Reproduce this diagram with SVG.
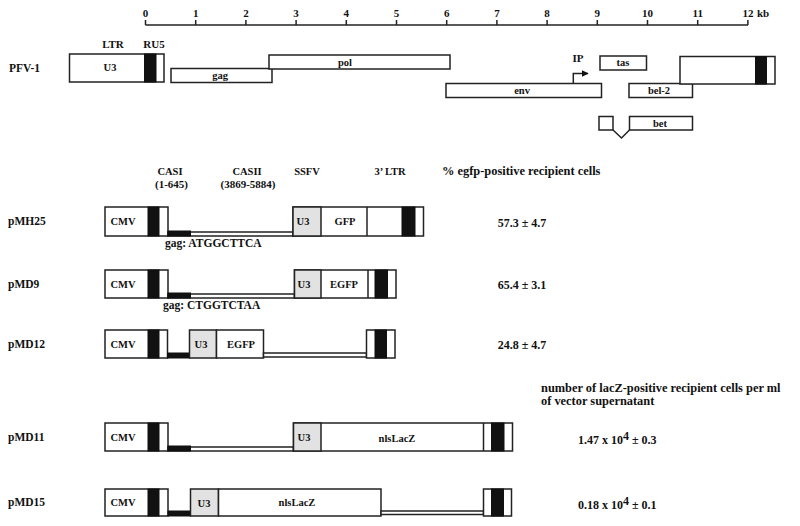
<svg xmlns="http://www.w3.org/2000/svg" width="800" height="526" viewBox="0 0 800 526">
<defs>
<style>
text{font-family:"Liberation Serif","Times New Roman",serif;font-weight:bold;font-size:10.5px;fill:#111}
.c{text-anchor:middle}
.lbl{font-size:11.5px}
.h{font-size:11px}
.big{font-size:12.4px}
.val{font-size:12px}
.seq{font-size:11.5px}
.bx{fill:#fff;stroke:#222;stroke-width:1.5}
.blk{fill:#111;stroke:#111;stroke-width:1}
.u3{fill:#e2e2e2;stroke:#222;stroke-width:1.5}
.ln{fill:none;stroke:#222;stroke-width:1.5}
</style>
<marker id="ah" viewBox="0 0 10 10" refX="9" refY="5" markerWidth="7" markerHeight="7" markerUnits="userSpaceOnUse" orient="auto">
<path d="M0,0 L10,5 L0,10 z" fill="#111"/>
</marker>
</defs>
<rect width="800" height="526" fill="#fff"/>

<g id="ruler">
<line x1="145.5" y1="25" x2="748" y2="25" class="ln"/>
<path class="ln" d="M145.5,25V20 M195.7,25V20 M245.9,25V20 M296.1,25V20 M346.3,25V20 M396.5,25V20 M446.7,25V20 M496.9,25V20 M547.1,25V20 M597.3,25V20 M647.5,25V20 M697.7,25V20 M747.9,25V20"/>
<text class="c h" x="145.5" y="17">0</text>
<text class="c h" x="195.7" y="17">1</text>
<text class="c h" x="245.9" y="17">2</text>
<text class="c h" x="296.1" y="17">3</text>
<text class="c h" x="346.3" y="17">4</text>
<text class="c h" x="396.5" y="17">5</text>
<text class="c h" x="446.7" y="17">6</text>
<text class="c h" x="496.9" y="17">7</text>
<text class="c h" x="547.1" y="17">8</text>
<text class="c h" x="597.3" y="17">9</text>
<text class="c h" x="647.5" y="17">10</text>
<text class="c h" x="697.7" y="17">11</text>
<text class="c h" x="747.9" y="17">12</text>
<text class="h" x="757" y="17">kb</text>
</g>

<g id="pfv1">
<text class="lbl" x="9" y="72">PFV-1</text>
<text class="c h" x="113" y="48">LTR</text>
<text class="c h" x="154" y="48">RU5</text>
<g id="ltr5"><rect class="bx" x="69.5" y="54" width="94.5" height="28"/><rect class="blk" x="144.5" y="54" width="11.5" height="28"/><text class="c" x="110" y="71">U3</text></g>
<g id="gag"><rect class="bx" x="171" y="68.5" width="101" height="14"/><text class="c" x="220" y="79">gag</text></g>
<g id="pol"><rect class="bx" x="269" y="55" width="181" height="14"/><text class="c" x="345" y="65.5">pol</text></g>
<g id="env"><rect class="bx" x="446" y="83.5" width="155.5" height="14"/><text class="c" x="522" y="94">env</text></g>
<text class="c h" x="578" y="62">IP</text>
<g id="tas"><rect class="bx" x="600" y="56" width="46.5" height="14"/><text class="c" x="623" y="66">tas</text></g>
<g id="bel2"><rect class="bx" x="629" y="83.5" width="63.5" height="14"/><text class="c" x="659" y="94">bel-2</text></g>
<g id="ltr3"><rect class="bx" x="680" y="56.5" width="95" height="27.5"/><rect class="blk" x="755.5" y="56.5" width="11" height="27.5"/></g>
<g id="bet"><rect class="bx" x="599" y="116.5" width="14" height="13.5"/><rect class="bx" x="629.5" y="116.5" width="63" height="13.5"/><text class="c" x="660" y="127">bet</text></g>
</g>

<g id="connectors">
<path class="ln" d="M573.3,83.5V73.5H588" marker-end="url(#ah)"/>
<path class="ln" d="M613,130L621.5,138L629.5,130"/>
</g>

<g id="headers">
<text class="c" x="170" y="175">CASI</text>
<text class="c h" x="171.5" y="188">(1-645)</text>
<text class="c" x="247" y="175">CASII</text>
<text class="c h" x="248" y="188">(3869-5884)</text>
<text class="c" x="307" y="175">SSFV</text>
<text class="c" x="390" y="175">3’ LTR</text>
<text class="big" x="442" y="175">% egfp-positive recipient cells</text>
<text class="big" x="541" y="392">number of lacZ-positive recipient cells per ml</text>
<text class="big" x="541" y="405">of vector supernatant</text>
</g>

<g id="pMH25">
<text class="lbl" x="8" y="225">pMH25</text>
<rect class="bx" x="105" y="207" width="63" height="29"/><rect class="blk" x="148" y="207" width="11" height="29"/>
<text class="c" x="123" y="225">CMV</text>
<rect class="bx" x="168" y="232" width="125" height="4"/><rect class="blk" x="168" y="231" width="22.5" height="5"/>
<rect class="bx" x="293" y="207" width="130.5" height="29"/>
<rect class="u3" x="293" y="207" width="28" height="29"/>
<line class="ln" x1="367" y1="207" x2="367" y2="236"/>
<rect class="blk" x="402" y="207" width="13" height="29"/>
<text class="c" x="303" y="225">U3</text>
<text class="c" x="345" y="225">GFP</text>
<text class="seq" x="165" y="247">gag: ATGGCTTCA</text>
<text class="c val" x="522" y="227">57.3 ± 4.7</text>
</g>

<g id="pMD9">
<text class="lbl" x="8" y="288">pMD9</text>
<rect class="bx" x="105" y="270" width="63" height="28"/><rect class="blk" x="148" y="270" width="11" height="28"/>
<text class="c" x="123" y="288">CMV</text>
<rect class="bx" x="168" y="294" width="126.5" height="4"/><rect class="blk" x="168" y="293" width="22.5" height="5"/>
<rect class="bx" x="294.5" y="270" width="101.5" height="28"/>
<rect class="u3" x="294.5" y="270" width="26.5" height="28"/>
<line class="ln" x1="368" y1="270" x2="368" y2="298"/>
<rect class="blk" x="375" y="270" width="12.5" height="28"/>
<text class="c" x="304" y="288">U3</text>
<text class="c" x="344" y="288">EGFP</text>
<text class="seq" x="163" y="309">gag: CTGGTCTAA</text>
<text class="c val" x="522" y="289">65.4 ± 3.1</text>
</g>

<g id="pMD12">
<text class="lbl" x="8" y="348">pMD12</text>
<rect class="bx" x="105" y="330" width="62.5" height="28"/><rect class="blk" x="148" y="330" width="11" height="28"/>
<text class="c" x="123" y="348">CMV</text>
<rect class="blk" x="167.5" y="353" width="22" height="5"/>
<rect class="u3" x="189.5" y="330" width="27" height="28"/>
<rect class="bx" x="216.5" y="330" width="47" height="28"/>
<text class="c" x="201" y="348">U3</text>
<text class="c" x="241" y="348">EGFP</text>
<rect class="bx" x="263.5" y="353" width="103" height="4"/>
<rect class="bx" x="366.5" y="330" width="28.5" height="28"/><rect class="blk" x="375" y="330" width="11.5" height="28"/>
<text class="c val" x="522" y="349">24.8 ± 4.7</text>
</g>

<g id="pMD11">
<text class="lbl" x="8" y="441">pMD11</text>
<rect class="bx" x="105" y="423" width="63" height="28"/><rect class="blk" x="148" y="423" width="11" height="28"/>
<text class="c" x="123" y="441">CMV</text>
<rect class="bx" x="168" y="447" width="125.5" height="4"/><rect class="blk" x="168" y="446" width="22.5" height="5"/>
<rect class="bx" x="293.5" y="423" width="219" height="28"/>
<rect class="u3" x="293.5" y="423" width="27.5" height="28"/>
<line class="ln" x1="483.5" y1="423" x2="483.5" y2="451"/>
<rect class="blk" x="491.5" y="423" width="12.5" height="28"/>
<text class="c" x="304" y="441">U3</text>
<text class="c" x="397" y="442">nlsLacZ</text>
<text class="val" x="578" y="444">1.47 x 10<tspan dy="-4">4</tspan><tspan dy="4"> ± 0.3</tspan></text>
</g>

<g id="pMD15">
<text class="lbl" x="8" y="506">pMD15</text>
<rect class="bx" x="105" y="489" width="63" height="27"/><rect class="blk" x="148" y="489" width="11" height="27"/>
<text class="c" x="123" y="506">CMV</text>
<rect class="blk" x="168" y="511" width="22.5" height="5"/>
<rect class="u3" x="190.5" y="489" width="28" height="27"/>
<rect class="bx" x="218.5" y="489" width="162.5" height="27"/>
<text class="c" x="204" y="507">U3</text>
<text class="c" x="297" y="506">nlsLacZ</text>
<rect class="bx" x="381" y="511" width="102.5" height="3.5"/>
<rect class="bx" x="483.5" y="489" width="28" height="27"/><rect class="blk" x="491.5" y="489" width="12" height="27"/>
<text class="val" x="578" y="509">0.18 x 10<tspan dy="-4">4</tspan><tspan dy="4"> ± 0.1</tspan></text>
</g>
</svg>
